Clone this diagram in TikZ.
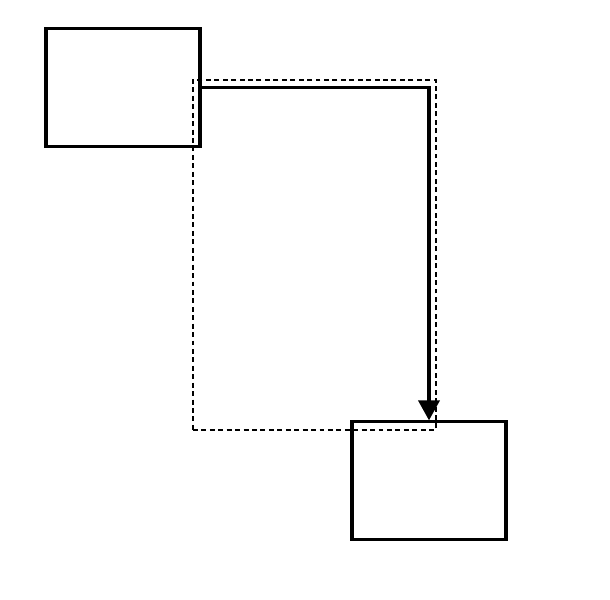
\documentclass[tikz,border=0pt]{standalone}
\usetikzlibrary{arrows.meta}

\begin{document}
\begin{tikzpicture}[x=0.03cm, y=-0.03cm,
    boxnode/.style={draw=black, line width=2.6pt, minimum width=4.62cm, minimum height=3.52cm, inner sep=0pt},
    framenode/.style={draw=black, line width=1.2pt, dash pattern=on 4.2pt off 3pt, minimum width=7.29cm, minimum height=10.5cm, inner sep=0pt}]
            \useasboundingbox (0,0) rectangle (610,600);

            % Dashed frame
            \node[framenode] (frame) at (314.5,255) {};

            % Boxes
            \node[boxnode] (source) at (123,87.5) {};
            \node[boxnode] (target) at (429,480.5) {};

            % Connector
            \draw[line width=2.6pt, -{Triangle[length=0.6cm, width=0.64cm]}] (source.east) -| (target.north);
        \end{tikzpicture}
\end{document}
